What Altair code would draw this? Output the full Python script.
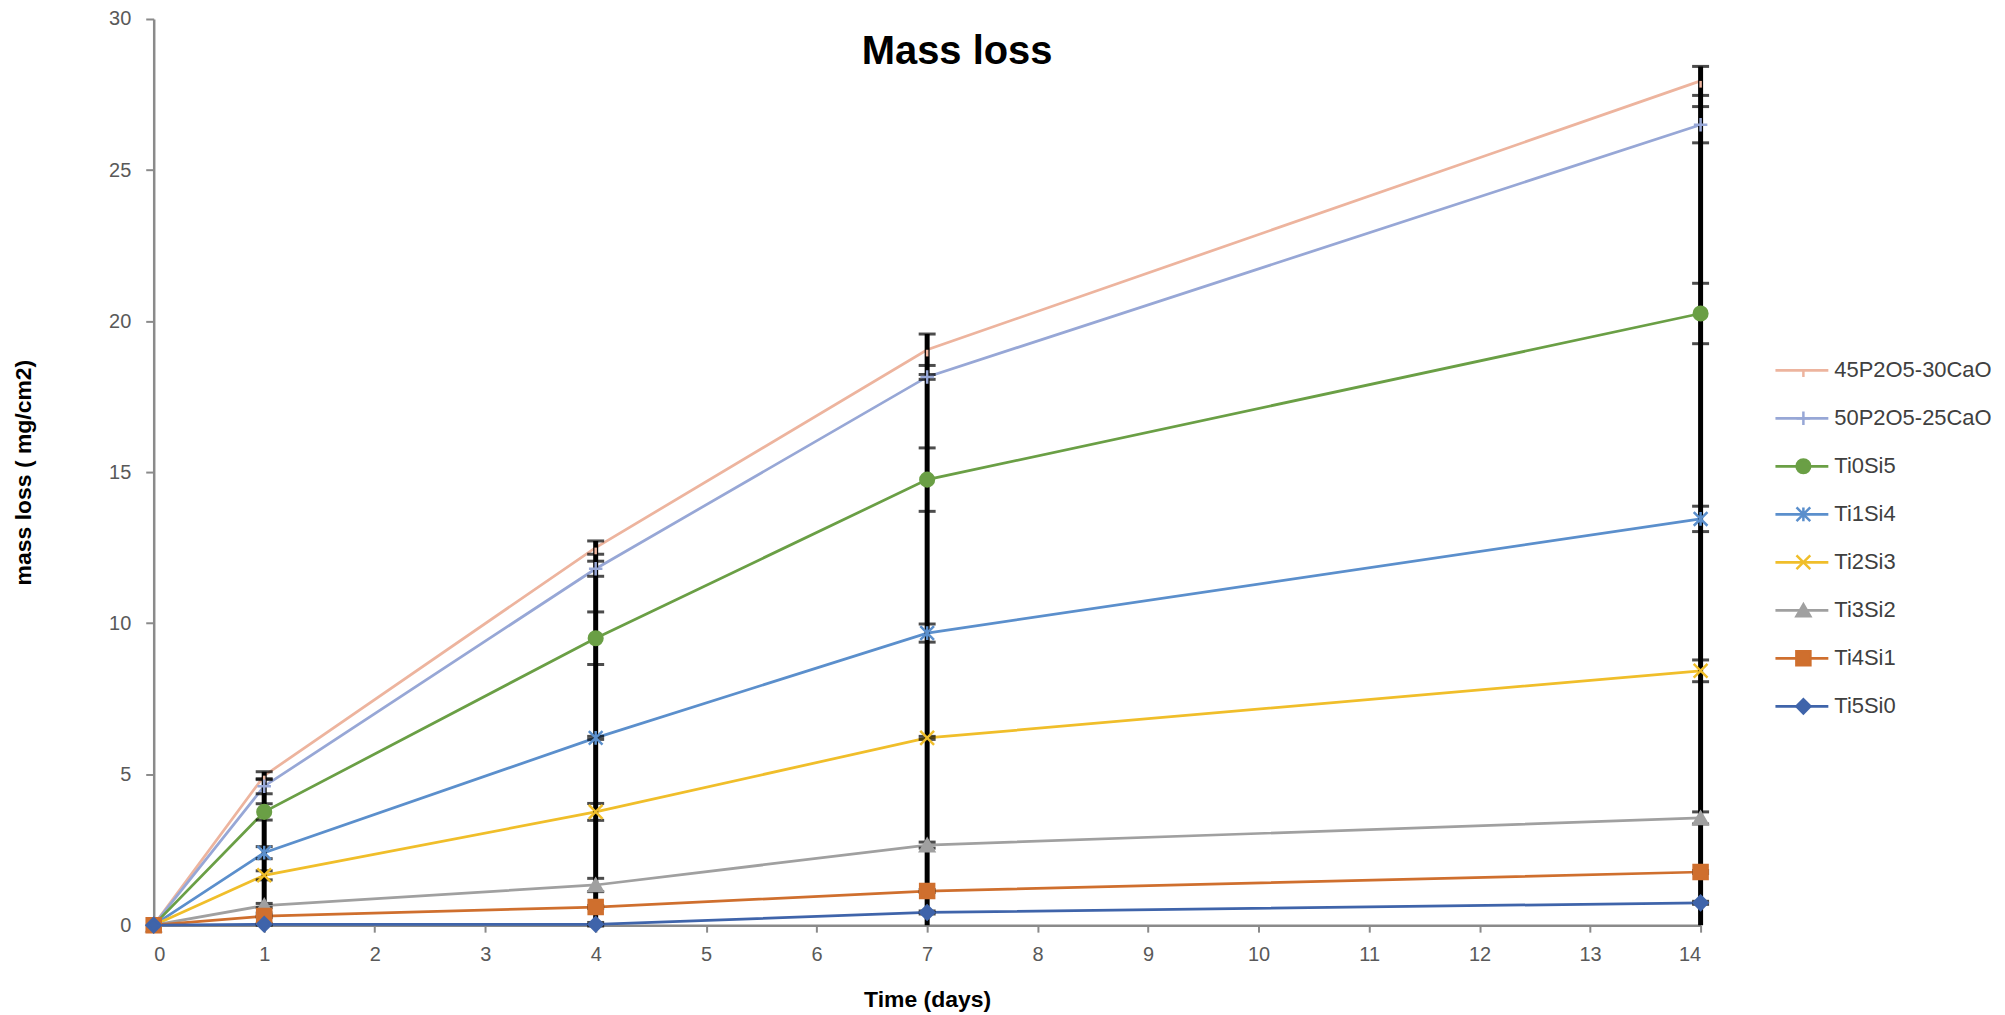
import altair as alt
import pandas as pd

# ---------------- data ----------------
days = [0, 1, 4, 7, 14]
series = ["45P2O5-30CaO", "50P2O5-25CaO", "Ti0Si5", "Ti1Si4", "Ti2Si3", "Ti3Si2", "Ti4Si1", "Ti5Si0"]

v_45P = [0, 4.95, 12.5, 19.05, 27.95]
v_50P = [0, 4.6, 11.8, 18.15, 26.5]
v_Ti0Si5 = [0, 3.75, 9.5, 14.75, 20.25]
v_Ti1Si4 = [0, 2.4, 6.2, 9.67, 13.45]
v_Ti2Si3 = [0, 1.65, 3.75, 6.2, 8.42]
v_Ti3Si2 = [0, 0.65, 1.33, 2.65, 3.55]
v_Ti4Si1 = [0, 0.3, 0.6, 1.13, 1.76]
v_Ti5Si0 = [0, 0.03, 0.03, 0.42, 0.74]

e_45P = [0, 0.13, 0.22, 0.52, 0.48]
e_50P = [0, 0.25, 0.25, 0.08, 0.6]
e_Ti0Si5 = [0, 0.27, 0.87, 1.05, 1.0]
e_Ti1Si4 = [0, 0.2, 0.05, 0.3, 0.42]
e_Ti2Si3 = [0, 0.15, 0.28, 0.05, 0.36]
e_Ti3Si2 = [0, 0.07, 0.22, 0.1, 0.2]
e_Ti4Si1 = [0, 0.05, 0.05, 0.05, 0.05]
e_Ti5Si0 = [0, 0.03, 0.06, 0.05, 0.05]

values = [v_45P, v_50P, v_Ti0Si5, v_Ti1Si4, v_Ti2Si3, v_Ti3Si2, v_Ti4Si1, v_Ti5Si0]
errors = [e_45P, e_50P, e_Ti0Si5, e_Ti1Si4, e_Ti2Si3, e_Ti3Si2, e_Ti4Si1, e_Ti5Si0]

y_ticks = [0, 5, 10, 15, 20, 25, 30]
x_ticks = list(range(0, 15))

# ---------------- styles ----------------
colors = ["#EDB49E", "#97A7D6", "#6A9F45", "#5B8FCC", "#F0BE2A", "#A0A0A0", "#CF6F2E", "#3F64AA"]
fills = ["transparent", "transparent", "#6A9F45", "transparent", "transparent", "#A0A0A0", "#CF6F2E", "#3F64AA"]
shapes = [
    "M0,0L0,1",
    "M-1,0L1,0M0,-1L0,1",
    "circle",
    "M-1,-1L1,1M-1,1L1,-1M0,-1L0,1",
    "M-1,-1L1,1M-1,1L1,-1",
    "triangle-up",
    "square",
    "diamond",
]
sizes = [180, 200, 150, 170, 170, 190, 170, 220]

FONT = "Liberation Sans"
PLOT_W = 1550
PLOT_H = 908

rows = []
for s, vals, errs in zip(series, values, errors):
    for d, v, e in zip(days, vals, errs):
        rows.append({"day": d, "series": s, "value": v, "lo": v - e, "hi": v + e})
df = pd.DataFrame(rows)

color_scale = alt.Scale(domain=series, range=colors)
fill_scale = alt.Scale(domain=series, range=fills)
shape_scale = alt.Scale(domain=series, range=shapes)
size_scale = alt.Scale(domain=series, range=sizes)

x_enc = alt.X(
    "day:Q",
    scale=alt.Scale(domain=[0, 14], nice=False, zero=False),
    axis=alt.Axis(
        values=x_ticks, format="d", title="Time (days)", grid=False,
        labelFont=FONT, labelFontSize=20, labelColor="#595959", labelPadding=12,
        titleFont=FONT, titleFontSize=23, titleFontWeight="bold", titleColor="#000000",
        titlePadding=24, domainColor="#8a8a8a", domainWidth=2.5,
        tickColor="#8a8a8a", tickWidth=2, tickSize=7,
    ),
)
y_axis = alt.Axis(
    values=y_ticks, format="d", title="mass loss ( mg/cm2)", grid=False,
    labelFont=FONT, labelFontSize=20, labelColor="#595959", labelPadding=15,
    titleFont=FONT, titleFontSize=23, titleFontWeight="bold", titleColor="#000000",
    titlePadding=73, domainColor="#8a8a8a", domainWidth=2.5,
    tickColor="#8a8a8a", tickWidth=2, tickSize=8,
)
y_scale = alt.Scale(domain=[0, 30], nice=False)

base = alt.Chart(df)

lines = base.mark_line(strokeWidth=2.75).encode(
    x=x_enc,
    y=alt.Y("value:Q", scale=y_scale, axis=y_axis),
    color=alt.Color("series:N", scale=color_scale, legend=None),
    detail="series:N",
)

spine = base.transform_filter("datum.day > 0").transform_aggregate(
    top="max(hi)", groupby=["day"]
).mark_rule(color="#000000", strokeWidth=5).encode(
    x="day:Q",
    y="top:Q",
    y2=alt.Y2(datum=0),
)

caps_hi = base.transform_filter("datum.day > 0").mark_tick(
    color="#000000", thickness=3, size=17, orient="horizontal"
).encode(x="day:Q", y="hi:Q")
caps_lo = base.transform_filter("datum.day > 0").mark_tick(
    color="#000000", thickness=3, size=17, orient="horizontal"
).encode(x="day:Q", y="lo:Q")

points = base.mark_point(filled=True, strokeWidth=2.5, opacity=1).encode(
    x="day:Q",
    y="value:Q",
    shape=alt.Shape("series:N", scale=shape_scale, legend=None),
    fill=alt.Fill("series:N", scale=fill_scale, legend=None),
    stroke=alt.Stroke("series:N", scale=color_scale, legend=None),
    size=alt.Size("series:N", scale=size_scale, legend=None),
)

main = alt.layer(lines, spine, caps_hi, caps_lo, points).properties(
    width=PLOT_W,
    height=PLOT_H,
    title=alt.TitleParams(
        "Mass loss", font=FONT, fontSize=40, fontWeight="bold", color="#000000",
        anchor="middle", offset=0, baseline="alphabetic", dx=30, dy=95,
    ),
)

# ---------------- legend panel ----------------
LEG_W = 222
leg_df = pd.DataFrame({"series": series, "idx": list(range(len(series)))})
leg_y_scale = alt.Scale(domain=[PLOT_H, 0], nice=False, zero=False)
leg_x_scale = alt.Scale(domain=[0, LEG_W], nice=False, zero=False)
leg_base = alt.Chart(leg_df).transform_calculate(ypos="352 + 48.1 * datum.idx")
leg_y = alt.Y("ypos:Q", scale=leg_y_scale, axis=None)

leg_lines = leg_base.mark_rule(strokeWidth=2.75).encode(
    x=alt.X(datum=0, type="quantitative", scale=leg_x_scale, axis=None),
    x2=alt.X2(datum=53),
    y=leg_y,
    color=alt.Color("series:N", scale=color_scale, legend=None),
)
leg_points = leg_base.mark_point(filled=True, strokeWidth=2.5, opacity=1).encode(
    x=alt.X(datum=28, type="quantitative", scale=leg_x_scale, axis=None),
    y=leg_y,
    shape=alt.Shape("series:N", scale=shape_scale, legend=None),
    fill=alt.Fill("series:N", scale=fill_scale, legend=None),
    stroke=alt.Stroke("series:N", scale=color_scale, legend=None),
    size=alt.Size("series:N", scale=size_scale, legend=None),
)
leg_text = leg_base.mark_text(
    align="left", baseline="middle", font=FONT, fontSize=22, color="#404040"
).encode(
    x=alt.X(datum=59, type="quantitative", scale=leg_x_scale, axis=None),
    y=leg_y,
    text="series:N",
)
legend_panel = alt.layer(leg_lines, leg_points, leg_text).properties(width=LEG_W, height=PLOT_H)

chart = alt.hconcat(main, legend_panel, spacing=60).properties(
    padding={"left": 4, "top": 0, "right": 0, "bottom": 0},
    background="#ffffff",
).configure_view(stroke=None)

chart.save("out.html", embed_options={"renderer": "svg", "actions": False})
